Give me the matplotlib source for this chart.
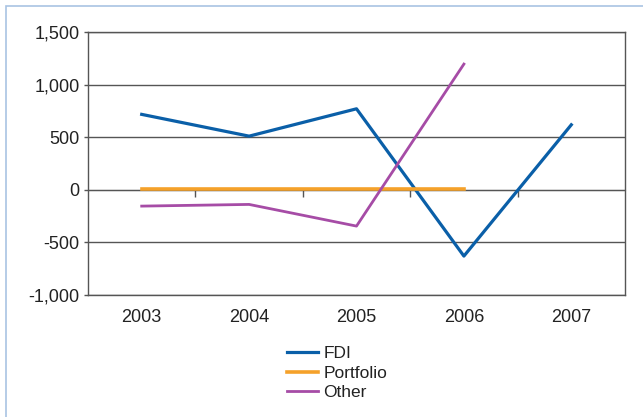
import matplotlib
matplotlib.use("Agg")
import matplotlib.pyplot as plt
import numpy as np
from matplotlib.patches import Rectangle

years = ["2003", "2004", "2005", "2006", "2007"]
fdi = [717, 510, 770, -630, 618]
portfolio = [10, 10, 10, 10, np.nan]
other = [-155, -139, -345, 1195, np.nan]

plt.rcParams['font.family'] = ['Liberation Sans', 'DejaVu Sans']

fig = plt.figure(figsize=(6.43, 4.17), dpi=100)
W, H = 643, 417
# outer light-blue frame
fig.patches.append(Rectangle((6 / W, -0.1), 1.2, 1 - 6 / H + 0.1, transform=fig.transFigure,
                             fill=False, edgecolor='#A9C3E3', linewidth=1.2))

ax = fig.add_axes([88 / W, 1 - 295 / H, (625 - 88) / W, (295 - 32) / H])
x = np.arange(len(years))
ax.plot(x, fdi, color='#0A5FA8', linewidth=2.3, label='FDI')
ax.plot(x, portfolio, color='#F5A12A', linewidth=2.6, label='Portfolio')
ax.plot(x, other, color='#A64CA6', linewidth=2.0, label='Other')

ax.set_xlim(-0.5, 4.5)
ax.set_ylim(-1000, 1500)
ax.set_yticks([-1000, -500, 0, 500, 1000, 1500])
ax.set_yticklabels(['-1,000', '-500', '0', '500', '1,000', '1,500'])
ax.set_xticks(x)
ax.set_xticklabels(years)
ax.tick_params(axis='x', length=0, pad=10, labelsize=13, colors='#222222')
ax.tick_params(axis='y', length=3, width=1, color='#555555', pad=3, labelsize=13, labelcolor='#222222')
ax.grid(axis='y', color='#555555', linewidth=1)
ax.set_axisbelow(True)
for s in ax.spines.values():
    s.set_color('#555555')
    s.set_linewidth(1)

sec = ax.secondary_xaxis(0.4)
sec.set_xticks([0.5, 1.5, 2.5, 3.5])
sec.set_xticklabels([])
sec.tick_params(axis='x', direction='out', length=5, width=1, color='#555555')
sec.spines['bottom'].set_color('#555555')

ax.legend(loc='center', bbox_to_anchor=(337 / W, 1 - 373 / H), bbox_transform=fig.transFigure,
          frameon=False, fontsize=12.5, handlelength=1.8, handletextpad=0.3, labelspacing=0.25,
          labelcolor='#222222')

fig.savefig('out.png', dpi=100)
